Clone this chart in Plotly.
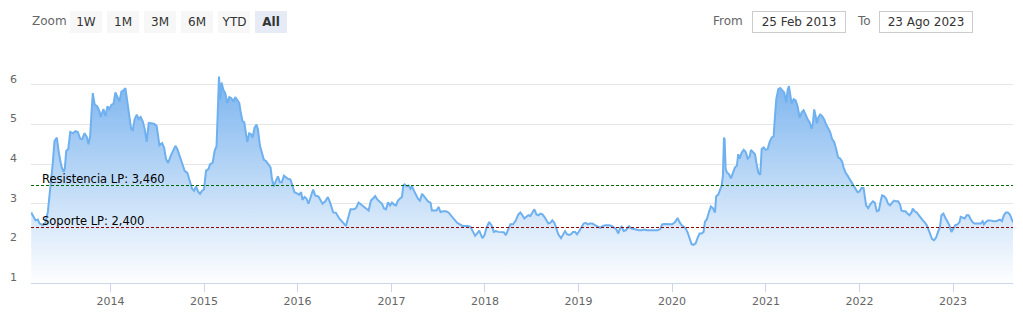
import datetime as dt
import plotly.graph_objects as go

# ---------------- data ----------------
# time expressed as decimal year, value of the series
t_years = [
    2013.153, 2013.200, 2013.224, 2013.242, 2013.278, 2013.306, 2013.331, 2013.349, 2013.367, 2013.384,
    2013.402, 2013.427, 2013.448, 2013.474, 2013.498, 2013.512, 2013.527, 2013.549, 2013.570, 2013.598,
    2013.626, 2013.651, 2013.677, 2013.698, 2013.723, 2013.747, 2013.765, 2013.783, 2013.797, 2013.811,
    2013.832, 2013.858, 2013.883, 2013.896, 2013.925, 2013.947, 2013.968, 2013.989, 2014.011, 2014.032,
    2014.053, 2014.075, 2014.096, 2014.117, 2014.139, 2014.160, 2014.181, 2014.203, 2014.221, 2014.238,
    2014.259, 2014.281, 2014.302, 2014.323, 2014.345, 2014.366, 2014.387, 2014.409, 2014.438, 2014.466,
    2014.494, 2014.523, 2014.552, 2014.573, 2014.594, 2014.616, 2014.644, 2014.665, 2014.694, 2014.715,
    2014.744, 2014.772, 2014.793, 2014.822, 2014.851, 2014.872, 2014.893, 2014.915, 2014.936, 2014.957,
    2014.979, 2015.000, 2015.021, 2015.049, 2015.064, 2015.092, 2015.113, 2015.134, 2015.149, 2015.160,
    2015.174, 2015.188, 2015.206, 2015.227, 2015.249, 2015.270, 2015.291, 2015.313, 2015.334, 2015.355,
    2015.377, 2015.391, 2015.412, 2015.430, 2015.448, 2015.462, 2015.483, 2015.505, 2015.519, 2015.540,
    2015.561, 2015.576, 2015.598, 2015.619, 2015.640, 2015.662, 2015.689, 2015.711, 2015.726, 2015.747,
    2015.768, 2015.790, 2015.811, 2015.832, 2015.854, 2015.875, 2015.896, 2015.924, 2015.946, 2015.967,
    2015.988, 2016.017, 2016.038, 2016.052, 2016.074, 2016.095, 2016.116, 2016.138, 2016.166, 2016.188,
    2016.223, 2016.266, 2016.295, 2016.323, 2016.345, 2016.380, 2016.409, 2016.444, 2016.473, 2016.497,
    2016.515, 2016.537, 2016.564, 2016.601, 2016.622, 2016.650, 2016.679, 2016.708, 2016.735, 2016.757,
    2016.782, 2016.807, 2016.828, 2016.849, 2016.878, 2016.900, 2016.921, 2016.942, 2016.964, 2016.985,
    2017.006, 2017.028, 2017.049, 2017.070, 2017.092, 2017.113, 2017.127, 2017.141, 2017.162, 2017.184,
    2017.205, 2017.220, 2017.241, 2017.263, 2017.284, 2017.305, 2017.327, 2017.348, 2017.369, 2017.391,
    2017.418, 2017.433, 2017.461, 2017.482, 2017.504, 2017.525, 2017.554, 2017.583, 2017.610, 2017.647,
    2017.674, 2017.703, 2017.732, 2017.760, 2017.789, 2017.817, 2017.845, 2017.867, 2017.895, 2017.917,
    2017.938, 2017.959, 2017.973, 2017.995, 2018.016, 2018.045, 2018.074, 2018.095, 2018.116, 2018.144,
    2018.173, 2018.202, 2018.223, 2018.244, 2018.272, 2018.301, 2018.330, 2018.357, 2018.379, 2018.400,
    2018.421, 2018.443, 2018.464, 2018.485, 2018.507, 2018.528, 2018.550, 2018.571, 2018.592, 2018.614,
    2018.635, 2018.656, 2018.678, 2018.699, 2018.720, 2018.742, 2018.763, 2018.784, 2018.813, 2018.834,
    2018.856, 2018.877, 2018.898, 2018.920, 2018.941, 2018.963, 2018.984, 2019.013, 2019.034, 2019.055,
    2019.077, 2019.098, 2019.120, 2019.147, 2019.176, 2019.205, 2019.233, 2019.261, 2019.290, 2019.325,
    2019.354, 2019.382, 2019.403, 2019.425, 2019.446, 2019.461, 2019.482, 2019.504, 2019.525, 2019.539,
    2019.560, 2019.589, 2019.617, 2019.646, 2019.674, 2019.702, 2019.731, 2019.760, 2019.788, 2019.816,
    2019.845, 2019.873, 2019.894, 2019.916, 2019.944, 2019.973, 2020.001, 2020.030, 2020.059, 2020.080,
    2020.101, 2020.123, 2020.144, 2020.165, 2020.187, 2020.208, 2020.229, 2020.251, 2020.272, 2020.293,
    2020.315, 2020.336, 2020.350, 2020.371, 2020.393, 2020.414, 2020.435, 2020.457, 2020.470, 2020.492,
    2020.513, 2020.528, 2020.542, 2020.553, 2020.560, 2020.571, 2020.585, 2020.606, 2020.627, 2020.649,
    2020.670, 2020.691, 2020.705, 2020.720, 2020.742, 2020.763, 2020.784, 2020.806, 2020.827, 2020.841,
    2020.862, 2020.884, 2020.898, 2020.919, 2020.940, 2020.955, 2020.976, 2020.998, 2021.019, 2021.040,
    2021.062, 2021.083, 2021.097, 2021.111, 2021.132, 2021.154, 2021.175, 2021.196, 2021.218, 2021.233,
    2021.246, 2021.260, 2021.275, 2021.297, 2021.318, 2021.339, 2021.361, 2021.382, 2021.403, 2021.425,
    2021.446, 2021.467, 2021.489, 2021.503, 2021.516, 2021.532, 2021.545, 2021.559, 2021.580, 2021.602,
    2021.623, 2021.644, 2021.666, 2021.687, 2021.708, 2021.730, 2021.751, 2021.772, 2021.794, 2021.815,
    2021.830, 2021.851, 2021.873, 2021.894, 2021.916, 2021.937, 2021.958, 2021.980, 2022.001, 2022.022,
    2022.044, 2022.057, 2022.071, 2022.093, 2022.114, 2022.143, 2022.164, 2022.185, 2022.207, 2022.228,
    2022.242, 2022.263, 2022.285, 2022.306, 2022.327, 2022.349, 2022.370, 2022.391, 2022.413, 2022.434,
    2022.449, 2022.470, 2022.492, 2022.513, 2022.534, 2022.556, 2022.570, 2022.591, 2022.613, 2022.634,
    2022.655, 2022.677, 2022.698, 2022.719, 2022.733, 2022.754, 2022.776, 2022.797, 2022.818, 2022.840,
    2022.861, 2022.876, 2022.897, 2022.919, 2022.940, 2022.961, 2022.983, 2023.004, 2023.025, 2023.047,
    2023.068, 2023.082, 2023.103, 2023.125, 2023.146, 2023.167, 2023.189, 2023.210, 2023.231, 2023.253,
    2023.274, 2023.296, 2023.317, 2023.331, 2023.352, 2023.373, 2023.395, 2023.416, 2023.437, 2023.459,
    2023.480, 2023.501, 2023.523, 2023.544, 2023.565, 2023.587, 2023.608, 2023.623, 2023.642,
]
values = [
    2.78, 2.58, 2.60, 2.50, 2.46, 2.53, 2.80, 3.20, 3.54, 4.04,
    4.58, 4.67, 4.29, 3.96, 3.81, 3.88, 4.33, 4.38, 4.81, 4.78,
    4.83, 4.81, 4.64, 4.63, 4.78, 4.69, 4.50, 4.71, 5.29, 5.79,
    5.50, 5.46, 5.33, 5.19, 5.39, 5.21, 5.46, 5.39, 5.50, 5.52,
    5.81, 5.71, 5.58, 5.83, 5.86, 5.92, 5.54, 5.13, 4.89, 4.86,
    5.14, 5.25, 5.14, 5.19, 5.08, 4.89, 4.56, 5.04, 5.02, 5.02,
    4.96, 4.48, 4.53, 4.42, 4.13, 4.03, 4.21, 4.32, 4.46, 4.38,
    4.17, 3.96, 3.83, 3.78, 3.58, 3.38, 3.33, 3.44, 3.31, 3.25,
    3.33, 3.36, 3.83, 3.88, 4.00, 4.03, 4.33, 4.46, 5.46, 6.21,
    5.63, 6.06, 5.88, 5.79, 5.54, 5.69, 5.67, 5.58, 5.69, 5.60,
    5.54, 5.33, 5.08, 5.06, 4.75, 4.56, 4.78, 4.75, 4.67, 4.92,
    5.00, 4.88, 4.46, 4.25, 4.11, 4.08, 4.00, 3.92, 3.63, 3.44,
    3.58, 3.69, 3.54, 3.54, 3.71, 3.66, 3.63, 3.61, 3.42, 3.29,
    3.27, 3.23, 3.29, 3.10, 3.17, 3.13, 3.00, 3.14, 3.36, 3.21,
    3.18, 3.00, 3.06, 3.17, 3.04, 2.78, 2.77, 2.63, 2.54, 2.48,
    2.44, 2.63, 2.86, 2.86, 2.89, 3.03, 2.98, 2.92, 2.86, 2.83,
    3.08, 3.13, 3.19, 3.11, 3.06, 3.00, 2.88, 2.86, 3.04, 2.96,
    3.03, 2.98, 2.96, 3.08, 3.13, 3.17, 3.46, 3.49, 3.44, 3.46,
    3.38, 3.44, 3.33, 3.21, 3.13, 3.08, 3.25, 3.19, 3.11, 3.06,
    3.03, 2.83, 2.83, 2.83, 2.92, 2.79, 2.81, 2.81, 2.78, 2.67,
    2.58, 2.52, 2.48, 2.44, 2.44, 2.44, 2.42, 2.33, 2.19, 2.25,
    2.32, 2.21, 2.13, 2.21, 2.39, 2.54, 2.44, 2.29, 2.31, 2.29,
    2.28, 2.28, 2.21, 2.33, 2.48, 2.48, 2.58, 2.73, 2.78, 2.71,
    2.63, 2.67, 2.71, 2.69, 2.79, 2.86, 2.73, 2.71, 2.75, 2.73,
    2.67, 2.58, 2.50, 2.52, 2.58, 2.52, 2.39, 2.23, 2.13, 2.21,
    2.31, 2.23, 2.21, 2.23, 2.29, 2.29, 2.23, 2.33, 2.43, 2.50,
    2.52, 2.48, 2.50, 2.50, 2.46, 2.42, 2.39, 2.44, 2.46, 2.46,
    2.44, 2.39, 2.36, 2.25, 2.39, 2.42, 2.31, 2.33, 2.39, 2.43,
    2.38, 2.36, 2.35, 2.33, 2.33, 2.35, 2.33, 2.33, 2.33, 2.33,
    2.33, 2.36, 2.48, 2.49, 2.49, 2.49, 2.48, 2.53, 2.64, 2.53,
    2.46, 2.42, 2.38, 2.28, 2.13, 1.98, 1.96, 2.00, 2.14, 2.25,
    2.25, 2.29, 2.54, 2.61, 2.79, 2.93, 2.89, 2.78, 3.19, 3.23,
    3.36, 3.46, 3.71, 4.67, 4.63, 3.88, 3.79, 3.75, 3.64, 3.78,
    3.92, 3.96, 4.25, 4.14, 4.29, 4.36, 4.31, 4.14, 4.19, 4.36,
    4.31, 4.25, 4.04, 3.79, 3.73, 4.38, 4.42, 4.36, 4.38, 4.56,
    4.67, 4.71, 5.21, 5.64, 5.89, 5.92, 5.86, 5.81, 5.56, 5.88,
    5.97, 5.75, 5.53, 5.64, 5.61, 5.46, 5.17, 5.31, 5.36, 5.25,
    5.13, 5.06, 4.89, 5.04, 5.38, 5.21, 5.03, 5.17, 5.25, 5.21,
    5.13, 5.00, 4.92, 4.81, 4.63, 4.56, 4.38, 4.17, 4.14, 4.06,
    3.92, 3.79, 3.71, 3.63, 3.53, 3.46, 3.38, 3.29, 3.31, 3.40,
    3.40, 3.21, 2.96, 2.89, 2.98, 3.06, 3.03, 2.81, 2.83, 3.08,
    3.21, 3.19, 3.13, 3.00, 2.96, 3.03, 3.08, 3.06, 3.06, 2.98,
    2.83, 2.81, 2.81, 2.75, 2.71, 2.78, 2.88, 2.81, 2.78, 2.71,
    2.63, 2.58, 2.53, 2.46, 2.38, 2.23, 2.11, 2.08, 2.14, 2.29,
    2.42, 2.71, 2.75, 2.64, 2.53, 2.46, 2.29, 2.39, 2.46, 2.48,
    2.53, 2.67, 2.64, 2.63, 2.71, 2.71, 2.61, 2.53, 2.50, 2.50,
    2.50, 2.50, 2.56, 2.48, 2.54, 2.58, 2.58, 2.56, 2.56, 2.56,
    2.58, 2.60, 2.56, 2.71, 2.78, 2.78, 2.73, 2.63, 2.53,
]

resistance_value = 3.46
support_value = 2.40
resistance_label = "Resistencia LP: 3,460"
support_label = "Soporte LP: 2,400"
zoom_buttons = ["1W", "1M", "3M", "6M", "YTD", "All"]
from_label = "25 Feb 2013"
to_label = "23 Ago 2023"
x_start = "2013-02-25"
x_end = "2023-08-23"


def to_date(t):
    y = int(t)
    start = dt.datetime(y, 1, 1)
    days = (dt.datetime(y + 1, 1, 1) - start).days
    return start + dt.timedelta(days=(t - y) * days)


dates = [to_date(t) for t in t_years]

# ---------------- layout geometry ----------------
W, H = 1023, 318
ML, MR, MT, MB = 30, 10, 70, 33
PW, PH = W - ML - MR, H - MT - MB
FONT = "DejaVu Sans"


def px(x):
    return (x - ML) / PW


def py(y):
    return (H - MB - y) / PH


fig = go.Figure()
fig.add_trace(go.Scatter(
    x=dates, y=values, mode="lines",
    line=dict(color="#6fb0ef", width=2),
    fill="tozeroy",
    fillgradient=dict(type="vertical",
                      colorscale=[[0, "#ffffff"], [1, "#78b2ee"]],
                      start=1, stop=6.3),
    hoverinfo="x+y", showlegend=False,
))

shapes = [
    dict(type="line", xref="paper", x0=0, x1=1, yref="y", y0=resistance_value, y1=resistance_value,
         line=dict(color="#006400", width=1, dash="3px,2px")),
    dict(type="line", xref="paper", x0=0, x1=1, yref="y", y0=support_value, y1=support_value,
         line=dict(color="#8b0000", width=1, dash="3px,2px")),
]

annotations = [
    dict(text=resistance_label, xref="paper", x=px(39), yref="y", y=resistance_value,
         xanchor="left", yanchor="bottom", showarrow=False, yshift=-2,
         font=dict(family=FONT, size=11.5, color="#000000")),
    dict(text=support_label, xref="paper", x=px(39), yref="y", y=support_value,
         xanchor="left", yanchor="bottom", showarrow=False, yshift=-2,
         font=dict(family=FONT, size=11.5, color="#000000")),
    dict(text="Zoom", xref="paper", x=px(29), yref="paper", y=py(21),
         xanchor="left", yanchor="middle", showarrow=False,
         font=dict(family=FONT, size=12, color="#666666")),
    dict(text="From", xref="paper", x=px(745), yref="paper", y=py(21),
         xanchor="right", yanchor="middle", showarrow=False,
         font=dict(family=FONT, size=12, color="#666666")),
    dict(text="To", xref="paper", x=px(873), yref="paper", y=py(21),
         xanchor="right", yanchor="middle", showarrow=False,
         font=dict(family=FONT, size=12, color="#666666")),
]

for i, b in enumerate(zoom_buttons):
    active = b == "All"
    annotations.append(dict(
        text=("<b>%s</b>" % b) if active else b,
        xref="paper", x=px(69 + 37 * i), yref="paper", y=py(10),
        xanchor="left", yanchor="top", showarrow=False,
        width=32, height=22, borderpad=0, borderwidth=0,
        bgcolor="#e6ebf5" if active else "#f7f7f7",
        font=dict(family=FONT, size=12, color="#333333"),
    ))

for xl, lab in [(752, from_label), (879, to_label)]:
    annotations.append(dict(
        text=lab, xref="paper", x=px(xl), yref="paper", y=py(10),
        xanchor="left", yanchor="top", showarrow=False,
        width=92, height=20, borderpad=0, borderwidth=1,
        bordercolor="#cccccc", bgcolor="#ffffff",
        font=dict(family=FONT, size=12, color="#333333"),
    ))

fig.update_layout(
    width=W, height=H,
    margin=dict(l=ML, r=MR, t=MT, b=MB, pad=0),
    paper_bgcolor="#ffffff", plot_bgcolor="#ffffff",
    font=dict(family=FONT, size=11, color="#666666"),
    shapes=shapes, annotations=annotations,
    showlegend=False,
    xaxis=dict(
        type="date", range=[x_start, x_end],
        tick0="2014-01-01", dtick="M12", tickformat="%Y",
        showgrid=False, zeroline=False,
        showline=True, linecolor="#ccd6eb", linewidth=1,
        ticks="outside", ticklen=8, tickcolor="#ccd6eb", tickwidth=1,
        tickfont=dict(family=FONT, size=11, color="#666666"),
    ),
    yaxis=dict(
        range=[1, 6.375], tickvals=[1, 2, 3, 4, 5, 6],
        showgrid=True, gridcolor="#e6e6e6", gridwidth=1,
        zeroline=False, showline=False, ticks="",
        ticklabelstandoff=13, ticklabelshift=-6,
        tickfont=dict(family=FONT, size=11, color="#666666"),
    ),
)

fig.write_html("out.html", config={"displayModeBar": False})
